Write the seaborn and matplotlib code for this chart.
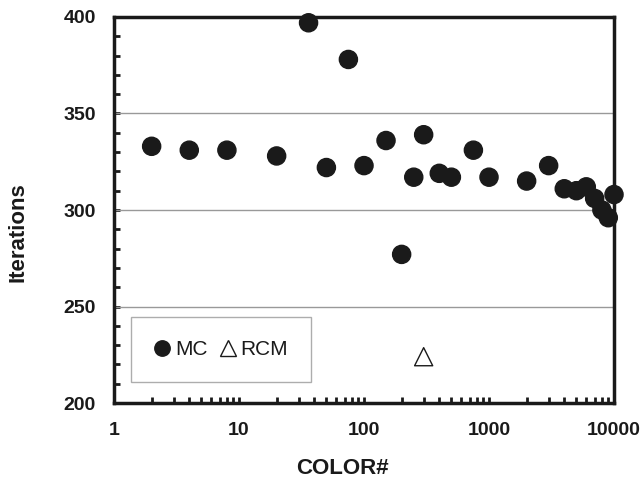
import pandas as pd
import matplotlib
matplotlib.use('Agg')
import matplotlib.pyplot as plt
import seaborn as sns
from matplotlib.ticker import LogLocator, MultipleLocator

# Datos
mc_colors = [2, 4, 8, 20, 36, 50, 75, 100, 150, 200, 250, 300, 400, 500, 750,
             1000, 2000, 3000, 4000, 5000, 6000, 7000, 8000, 9000, 10000]
mc_iters = [333, 331, 331, 328, 397, 322, 378, 323, 336, 277, 317, 339, 319, 317, 331,
            317, 315, 323, 311, 310, 312, 306, 300, 296, 308]
rcm_colors = [300]
rcm_iters = [224]
x_ticks = [1, 10, 100, 1000, 10000]
y_ticks = [200, 250, 300, 350, 400]

df = pd.DataFrame({
    'COLOR#': mc_colors + rcm_colors,
    'Iterations': mc_iters + rcm_iters,
    'metodo': ['MC'] * len(mc_colors) + ['RCM'] * len(rcm_colors),
})

sns.set_style('white')
plt.rcParams['font.family'] = ['Liberation Sans', 'DejaVu Sans']

fig = plt.figure(figsize=(6.42, 4.8), dpi=100)
ax = fig.add_axes([0.1776, 0.1604, 0.7788, 0.8042])

sns.scatterplot(data=df, x='COLOR#', y='Iterations', hue='metodo', style='metodo',
                palette={'MC': '#1a1a1a', 'RCM': 'white'},
                markers={'MC': 'o', 'RCM': '^'}, s=170,
                edgecolor='#1a1a1a', linewidth=1.0, ax=ax, zorder=3, clip_on=False)

# el triangulo necesita borde negro
for coll in ax.collections:
    coll.set_edgecolor('#1a1a1a')

ax.set_xscale('log')
ax.set_xlim(1, 10000)
ax.set_ylim(200, 400)
ax.set_xticks(x_ticks)
ax.set_xticklabels([str(t) for t in x_ticks])
ax.set_yticks(y_ticks)
ax.xaxis.set_minor_locator(LogLocator(base=10, subs=range(2, 10)))
ax.yaxis.set_minor_locator(MultipleLocator(10))

for v in [250, 300, 350]:
    ax.axhline(v, color='#999999', lw=1.0, zorder=1)

for s in ax.spines.values():
    s.set_linewidth(2.5)
    s.set_color('#1a1a1a')

ax.tick_params(axis='both', which='both', direction='in', length=4, width=2,
               color='#1a1a1a', bottom=True, left=True, top=False, right=False)
ax.tick_params(axis='x', which='major', labelsize=14, pad=14)
ax.tick_params(axis='y', which='major', labelsize=14, pad=13)
for lbl in ax.get_xticklabels() + ax.get_yticklabels():
    lbl.set_fontweight('bold')
    lbl.set_color('#1a1a1a')

ax.set_xlabel('COLOR#', fontsize=16, fontweight='bold', color='#1a1a1a')
ax.set_ylabel('Iterations', fontsize=16, fontweight='bold', color='#1a1a1a')
ax.xaxis.set_label_coords(0.456, -0.142)
ax.yaxis.set_label_coords(-0.172, 0.443)

leg = ax.legend(loc='lower left', bbox_to_anchor=(0.034, 0.054), ncol=2,
                frameon=True, fancybox=False, edgecolor='#999999',
                fontsize=15, handletextpad=0.2, columnspacing=0.6,
                handlelength=0.8, borderpad=1.1, borderaxespad=0,
                markerscale=0.85, title=None)
leg.get_frame().set_linewidth(1.0)
for t in leg.get_texts():
    t.set_color('#1a1a1a')

plt.savefig('out.png', dpi=100)
